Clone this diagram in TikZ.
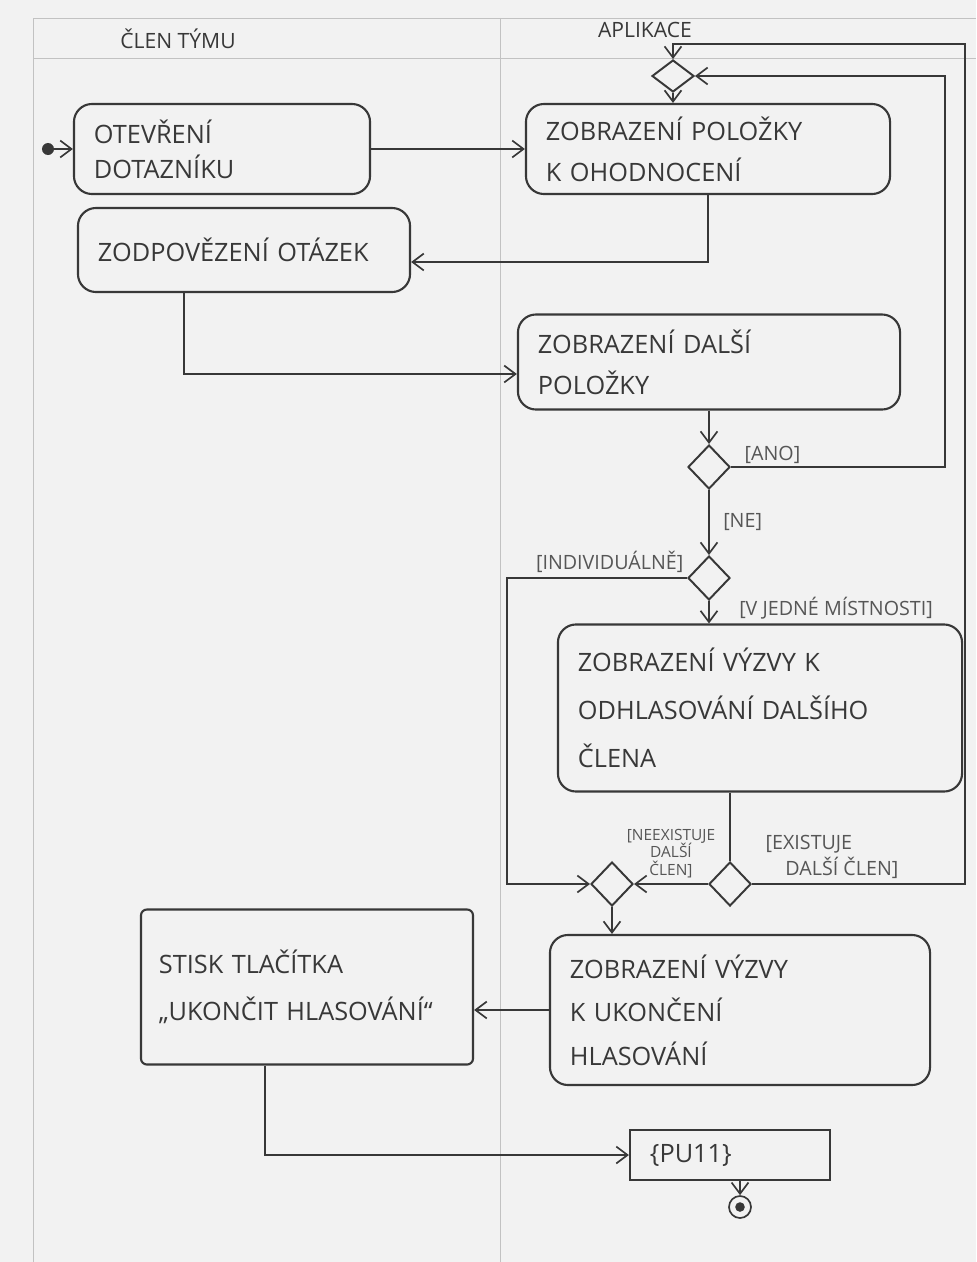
\documentclass[tikz,border=0pt]{standalone}
\usepackage{fontspec}
\setmainfont{Open Sans}
\usetikzlibrary{arrows.meta, shapes.geometric, positioning}
\definecolor{pencil}{gray}{0.22}
\definecolor{paper}{gray}{0.95}
\definecolor{laneline}{gray}{0.76}

\begin{document}
\begin{tikzpicture}[x=0.025cm, y=-0.025cm,
    action/.style={rectangle, rounded corners=0.45cm, draw=pencil, line width=1.5pt,
                   text=pencil, align=left, inner xsep=0.5cm,
                   font=\fontsize{18}{29}\selectfont},
    decision/.style={diamond, draw=pencil, line width=1.4pt, inner sep=0pt,
                     minimum width=1.05cm, minimum height=1.1cm},
    guard/.style={text=pencil!85, font=\fontsize{14}{18}\selectfont, inner sep=1pt},
    guardsmall/.style={guard, font=\fontsize{11}{12.5}\selectfont, align=center},
    lanetitle/.style={text=pencil, font=\fontsize{15}{17}\selectfont},
    flow/.style={draw=pencil, line width=1.2pt, -{Straight Barb[length=8pt, width=12pt]}},
    lane/.style={draw=laneline, line width=0.6pt}]

    \fill[paper] (0,0) rectangle (976,1262);
    \useasboundingbox (0,0) rectangle (976,1262);
    \draw[lane] (33,1262) -- (33,18) -- (976,18);
    \draw[lane] (33,58) -- (976,58);
    \draw[lane] (500,18) -- (500,1262);

    \node[lanetitle] (laneteam) at (178,39) {ČLEN TÝMU};
    \node[lanetitle] (laneapp) at (645,30) {APLIKACE};

    \node[circle, fill=pencil, minimum size=0.3cm, inner sep=0pt] (start) at (48,149) {};
    \node[action, text width=6.4cm, minimum height=2.25cm,
          font=\fontsize{18}{25}\selectfont] (otevreni) at (222,149)
         {OTEVŘENÍ\\DOTAZNÍKU};
    \node[decision, minimum height=0.8cm] (merge1) at (673,76) {};
    \node[action, text width=8.1cm, minimum height=2.25cm] (polozka) at (708,149)
         {ZOBRAZENÍ POLOŽKY\\K OHODNOCENÍ};
    \node[action, text width=7.3cm, minimum height=2.1cm] (odpovedi) at (244,250)
         {ZODPOVĚZENÍ OTÁZEK};
    \node[action, text width=8.55cm, minimum height=2.375cm] (dalsi) at (709,362)
         {ZOBRAZENÍ DALŠÍ\\POLOŽKY};
    \node[decision] (dalsiq) at (709,467) {};
    \node[decision] (zpusob) at (709,578) {};
    \node[action, text width=9.1cm, minimum height=4.175cm,
          font=\fontsize{18}{34}\selectfont] (vyzva) at (760,708)
         {ZOBRAZENÍ VÝZVY K\\ODHLASOVÁNÍ DALŠÍHO\\ČLENA};
    \node[decision] (clenq) at (730,884) {};
    \node[decision] (merge2) at (612,884) {};
    \node[action, text width=8.5cm, minimum height=3.75cm,
          font=\fontsize{18}{31}\selectfont] (ukonceni) at (740,1010)
         {ZOBRAZENÍ VÝZVY\\K UKONČENÍ\\HLASOVÁNÍ};
    \node[action, rounded corners=0.15cm, text width=7.4cm, inner xsep=0.45cm,
          minimum height=3.875cm, font=\fontsize{18}{33}\selectfont] (stisk) at (307,987)
         {STISK TLAČÍTKA\\„UKONČIT HLASOVÁNÍ“};
    \node[action, rounded corners=0pt, text width=4cm, minimum height=1.25cm] (pu) at (730,1155)
         {\{PU11\}};
    \node[circle, draw=pencil, line width=1.2pt, minimum size=0.55cm, inner sep=0pt,
          path picture={\fill[pencil] (path picture bounding box.center) circle (0.12cm);}]
         (konec) at (740,1207) {};

    \coordinate (loopin) at (945,76);
    \coordinate (loopout) at (965,44);
    \coordinate (indiv) at (507,884);

    \draw[flow] (start) -- (otevreni);
    \draw[flow] (otevreni) -- (polozka);
    \draw[flow] (merge1) -- (polozka.north -| merge1);
    \draw[flow] (polozka.south) |- ([yshift=-0.3cm]odpovedi.east);
    \draw[flow] ([xshift=-1.5cm]odpovedi.south) |- ([yshift=-0.3cm]dalsi.west);
    \draw[flow] (dalsi) -- (dalsiq);
    \draw[flow] (dalsiq.east) -| (loopin) -- (merge1.east);
    \node[guard, above right=0.05cm and 0.3cm of dalsiq.east] (ano) {[ANO]};
    \draw[flow] (dalsiq) -- node[guard, right=0.3cm] (ne) {[NE]} (zpusob);
    \draw[flow] (zpusob.west) -| (indiv) -- (merge2.west);
    \node[guard, above left=0.1cm and 0.05cm of zpusob.west] (individ) {[INDIVIDUÁLNĚ]};
    \draw[flow] (zpusob) -- node[guard, right=0.7cm, pos=0.3] (mistnost)
         {[V JEDNÉ MÍSTNOSTI]} (zpusob |- vyzva.north);
    \draw[draw=pencil, line width=1.2pt] (clenq.north |- vyzva.south) -- (clenq);
    \draw[flow] (clenq) -- node[guardsmall, above=0.1cm] (neexist)
         {[NEEXISTUJE\\DALŠÍ\\ČLEN]} (merge2);
    \draw[flow] (clenq.east) -| (loopout) -| (merge1.north);
    \node[guard, align=left, above right=0.1cm and 0.3cm of clenq.east] (exist)
         {[EXISTUJE\\\quad DALŠÍ ČLEN]};
    \draw[flow] (merge2) -- (merge2 |- ukonceni.north);
    \draw[flow] (ukonceni.west) -- (ukonceni.west -| stisk.east);
    \draw[flow] ([xshift=-1.05cm]stisk.south) |- (pu.west);
    \draw[flow] (pu.south -| konec) -- (konec);
\end{tikzpicture}
\end{document}
